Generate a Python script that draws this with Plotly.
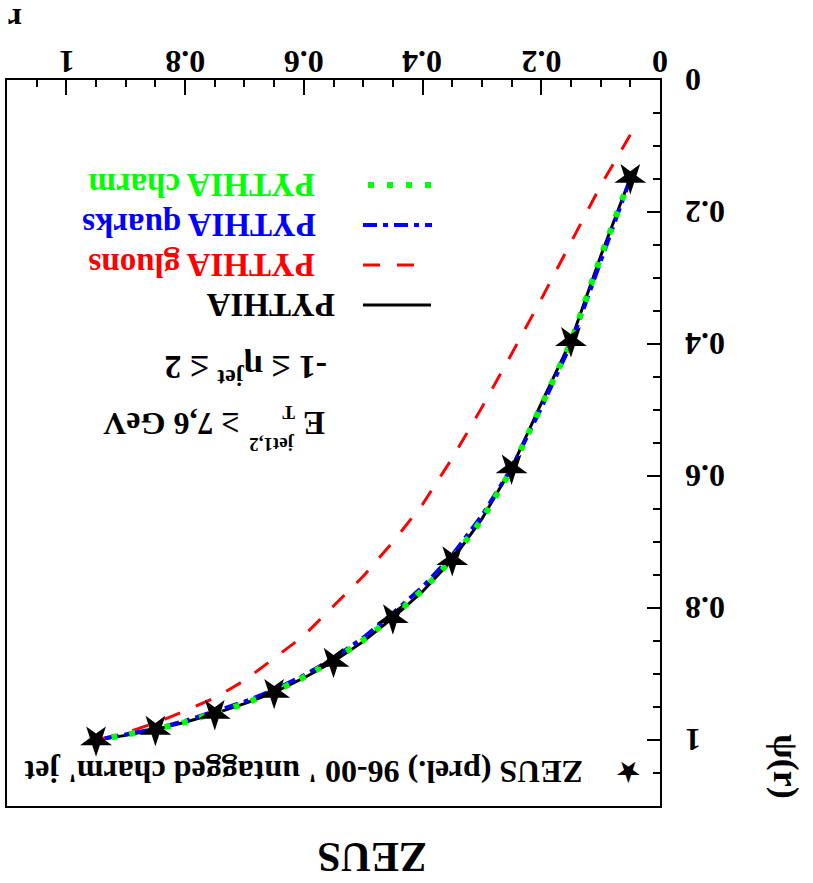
import plotly.graph_objects as go

# ---------------- data ----------------
r_data = [0.05, 0.15, 0.25, 0.35, 0.45, 0.55, 0.65, 0.75, 0.85, 0.95]
psi_data = [0.148, 0.395, 0.588, 0.727, 0.815, 0.881, 0.928, 0.960, 0.984, 1.0]

r_mc = [0.05, 0.10, 0.15, 0.20, 0.25, 0.30, 0.35, 0.40, 0.45, 0.50,
        0.55, 0.60, 0.65, 0.70, 0.75, 0.80, 0.85, 0.90, 0.95]
psi_pythia = [0.148, 0.267, 0.395, 0.490, 0.588, 0.665, 0.727, 0.775, 0.815, 0.851,
              0.881, 0.906, 0.928, 0.945, 0.960, 0.973, 0.984, 0.993, 1.0]
psi_gluons = [0.083, 0.160, 0.246, 0.332, 0.415, 0.496, 0.573, 0.643, 0.700, 0.752,
              0.797, 0.842, 0.876, 0.910, 0.936, 0.956, 0.974, 0.989, 1.0]
psi_quarks = [0.150, 0.275, 0.400, 0.497, 0.588, 0.660, 0.720, 0.768, 0.808, 0.845,
              0.876, 0.902, 0.924, 0.942, 0.957, 0.971, 0.983, 0.992, 1.0]
psi_charm = [0.148, 0.268, 0.397, 0.495, 0.590, 0.666, 0.726, 0.773, 0.813, 0.849,
             0.879, 0.905, 0.927, 0.945, 0.960, 0.973, 0.984, 0.993, 1.0]

x_tickvals = [0, 0.2, 0.4, 0.6, 0.8, 1.0]
x_ticktext = ["0", "0.2", "0.4", "0.6", "0.8", "1"]
y_tickvals = [0, 0.2, 0.4, 0.6, 0.8, 1.0]
y_ticktext = ["0", "0.2", "0.4", "0.6", "0.8", "1"]

# ---------------- layout geometry ----------------
W, H = 813, 883
L, R, T, B = 7, 153, 80, 77
X0, X1, Y0, Y1 = L, W - R, T, H - B
FONT = "Liberation Serif"
GREEN = "#00ff00"


def px(x):
    return (x - X0) / (X1 - X0)


def py(y):
    return (Y1 - y) / (Y1 - Y0)


fig = go.Figure()

fig.add_trace(go.Scatter(x=r_mc, y=psi_pythia, mode="lines", name="PYTHIA",
                         line=dict(color="black", width=3)))
fig.add_trace(go.Scatter(x=r_mc, y=psi_gluons, mode="lines", name="PYTHIA gluons",
                         line=dict(color="#ff0000", width=3, dash="17px,17px")))
fig.add_trace(go.Scatter(x=r_mc, y=psi_quarks, mode="lines", name="PYTHIA quarks",
                         line=dict(color="#0000ff", width=4, dash="14px,6px,5px,6px")))
fig.add_trace(go.Scatter(x=r_mc, y=psi_charm, mode="lines", name="PYTHIA charm",
                         line=dict(color=GREEN, width=6, dash="6px,12px")))
fig.add_trace(go.Scatter(x=r_data, y=psi_data, mode="markers", name="ZEUS",
                         marker=dict(symbol="star", size=24, color="black", angle=180,
                                     line=dict(width=0))))

axis_common = dict(showgrid=False, zeroline=False, automargin=False,
                   showline=True, linecolor="black", linewidth=1.5, mirror=True,
                   ticks="inside", tickwidth=1.5, tickcolor="black",
                   showticklabels=False,
                   minor=dict(dtick=0.05, ticks="inside", ticklen=7, tickwidth=1.5,
                              tickcolor="black", showgrid=False))
fig.update_xaxes(range=[1.1, 0], side="top", ticklen=15, tickvals=x_tickvals, **axis_common)
fig.update_yaxes(range=[1.1, 0], side="right", ticklen=13, tickvals=y_tickvals, **axis_common)

ann = []
shapes = []


def text(x, y, s, size, color="black", angle=180, xanchor="center"):
    ann.append(dict(x=px(x), y=py(y), xref="paper", yref="paper", text=s,
                    showarrow=False, textangle=angle, xanchor=xanchor, yanchor="middle",
                    font=dict(family=FONT, size=size, color=color, weight="bold")))


# tick labels (upside down), placed through the axis scales
for v, s in zip(x_tickvals, x_ticktext):
    ann.append(dict(x=v, y=py(62), xref="x", yref="paper", text=s, showarrow=False,
                    textangle=180, xanchor="center", yanchor="middle",
                    font=dict(family=FONT, size=32, color="black", weight="bold")))
for v, s in zip(y_tickvals, y_ticktext):
    ann.append(dict(x=px(683), y=v, xref="paper", yref="y", text=s, showarrow=False,
                    textangle=180, xanchor="left", yanchor="middle",
                    font=dict(family=FONT, size=32, color="black", weight="bold")))

# axis titles
text(15, 20, "r", 32)
text(786, 766, "ψ(r)", 36, angle=90)
text(372, 857, "ZEUS", 42)

# cuts
text(246, 370, "-1 ≤ η<sup>jet</sup> ≤ 2", 34)
text(314, 423, "E", 33)
text(289, 413, "T", 19)
text(272, 444, "jet1,2", 19)
text(171, 424, "≥ 7,6 GeV", 32)

# legend
legend_rows = [
    ("PYTHIA", "black", 305, 271, dict(color="black", width=3), 363, 431),
    ("PYTHIA gluons", "#ff0000", 265, 202, dict(color="#ff0000", width=3, dash="17px,17px"), 363, 417),
    ("PYTHIA quarks", "#0000ff", 225, 199, dict(color="#0000ff", width=4, dash="14px,6px,5px,6px"), 363, 432),
    ("PYTHIA charm", GREEN, 185, 202, dict(color=GREEN, width=6, dash="6px,13px"), 368, 432),
]
for label, col, yy, xc, ln, xa, xb in legend_rows:
    text(xc, yy, label, 33, color=col)
    shapes.append(dict(type="line", xref="paper", yref="paper",
                       x0=px(xa), x1=px(xb), y0=py(yy), y1=py(yy), line=ln))

text(304, 772, "ZEUS (prel.) 96-00 ' untagged charm' jet", 32)
text(628, 772, "★", 26)

fig.update_layout(width=W, height=H, margin=dict(l=L, r=R, t=T, b=B),
                  paper_bgcolor="white", plot_bgcolor="white", showlegend=False,
                  annotations=ann, shapes=shapes,
                  font=dict(family=FONT, color="black"))

fig.write_html("out.html")
